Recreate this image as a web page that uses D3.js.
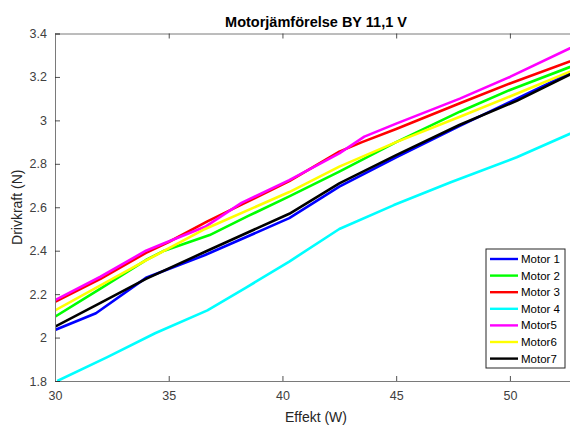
<!DOCTYPE html>
<html>
<head>
<meta charset="utf-8">
<script src="https://cdn.jsdelivr.net/npm/d3@7/dist/d3.min.js"></script>
<style>
  body { margin: 0; background: #fff; }
  text { font-family: "Liberation Sans", Arial, Helvetica, sans-serif; }
</style>
</head>
<body>
<div id="chart"></div>
<script>
const CANVAS = { w: 570, h: 427 };
const MARGIN = { left: 55, right: 577, top: 33.5, bottom: 381 };

const title = "Motorjämförelse BY 11,1 V";
const xLabel = "Effekt (W)";
const yLabel = "Drivkraft (N)";

const xTicks = [30, 35, 40, 45, 50];
const yTicks = [1.8, 2, 2.2, 2.4, 2.6, 2.8, 3, 3.2, 3.4];

const names = ["Motor 1", "Motor 2", "Motor 3", "Motor 4", "Motor5", "Motor6", "Motor7"];
const colors = ["#0000ff", "#00ff00", "#ff0000", "#00ffff", "#ff00ff", "#ffff00", "#000000"];

// [effekt, drivkraft] per motor
const motor1 = [[30, 2.035], [31.8, 2.112], [34, 2.275], [36.6, 2.38], [40.3, 2.55], [42.5, 2.695], [45, 2.83], [47.8, 2.975], [50.3, 3.10], [53, 3.235]];
const motor2 = [[30, 2.096], [32, 2.225], [34, 2.357], [34.8, 2.40], [36.8, 2.472], [38.5, 2.56], [40.3, 2.65], [42.5, 2.764], [45, 2.90], [47.8, 3.04], [50, 3.14], [53, 3.26]];
const motor3 = [[30, 2.165], [32, 2.27], [34, 2.39], [35, 2.44], [36.7, 2.535], [38.2, 2.612], [40.3, 2.72], [42.5, 2.856], [43.5, 2.90], [45, 2.96], [47.8, 3.079], [50, 3.17], [53, 3.285]];
const motor4 = [[30.1, 1.80], [32.3, 1.91], [34.4, 2.02], [36.7, 2.125], [38.4, 2.23], [40.3, 2.35], [42.5, 2.50], [44.9, 2.61], [47.4, 2.715], [50.3, 2.83], [53, 2.955]];
const motor5 = [[30, 2.172], [32, 2.28], [34, 2.40], [34.8, 2.434], [36.6, 2.51], [38.2, 2.62], [40.3, 2.725], [42.5, 2.848], [43.6, 2.925], [45, 2.985], [47.8, 3.10], [50, 3.20], [53, 3.35]];
const motor6 = [[30, 2.125], [32, 2.24], [34, 2.355], [36.6, 2.50], [40.3, 2.67], [42.5, 2.787], [45, 2.90], [47.8, 3.017], [50, 3.11], [53, 3.24]];
const motor7 = [[30, 2.05], [32, 2.16], [34, 2.27], [36.6, 2.395], [40.3, 2.57], [42.5, 2.71], [45, 2.84], [47.8, 2.98], [50.3, 3.09], [53, 3.23]];

const series = [motor1, motor2, motor3, motor4, motor5, motor6, motor7];

const x = d3.scaleLinear().domain([30, 52.95]).range([MARGIN.left, MARGIN.right]);
const y = d3.scaleLinear().domain([1.8, 3.4]).range([MARGIN.bottom, MARGIN.top]);

const svg = d3.select("#chart")
    .append("svg")
    .attr("width", CANVAS.w)
    .attr("height", CANVAS.h);

svg.append("defs").append("clipPath")
    .attr("id", "plotclip")
    .append("rect")
    .attr("x", MARGIN.left)
    .attr("y", MARGIN.top)
    .attr("width", MARGIN.right - MARGIN.left)
    .attr("height", MARGIN.bottom - MARGIN.top);

// --- lines ---
const line = d3.line().x(d => x(d[0])).y(d => y(d[1]));

svg.append("g")
    .attr("clip-path", "url(#plotclip)")
    .selectAll("path")
    .data(series)
    .enter()
    .append("path")
    .attr("d", line)
    .attr("fill", "none")
    .attr("stroke", (d, i) => colors[i])
    .attr("stroke-width", 2.6)
    .attr("stroke-linejoin", "round");

// --- axes (MATLAB style: box, ticks inward) ---
const axisColor = "#262626";
const tickSize = 5;

const xAxis = svg.append("g")
    .attr("transform", `translate(0,${MARGIN.bottom})`)
    .call(d3.axisBottom(x).tickValues(xTicks).tickSize(-tickSize).tickPadding(10).tickFormat(d3.format("d")));

const xAxisTop = svg.append("g")
    .attr("transform", `translate(0,${MARGIN.top})`)
    .call(d3.axisTop(x).tickValues(xTicks).tickSize(-tickSize).tickFormat(""));

const yAxis = svg.append("g")
    .attr("transform", `translate(${MARGIN.left},0)`)
    .call(d3.axisLeft(y).tickValues(yTicks).tickSize(-tickSize).tickPadding(8).tickFormat(d => d3.format("")(+d.toFixed(1))));

[xAxis, xAxisTop, yAxis].forEach(g => {
    g.select(".domain").attr("stroke", "#7a7a7a").attr("stroke-width", 1);
    g.selectAll(".tick line").attr("stroke", axisColor).attr("stroke-width", 0.8);
    g.selectAll(".tick text")
        .attr("fill", "#404040")
        .style("font-size", "12.5px")
        .style("font-family", "'Liberation Sans', Arial, sans-serif");
});

// --- title and labels ---
svg.append("text")
    .attr("x", (MARGIN.left + MARGIN.right) / 2)
    .attr("y", 27)
    .attr("text-anchor", "middle")
    .style("font-size", "14.5px")
    .style("font-weight", "bold")
    .attr("fill", "#000")
    .text(title);

svg.append("text")
    .attr("x", (MARGIN.left + MARGIN.right) / 2)
    .attr("y", 422)
    .attr("text-anchor", "middle")
    .style("font-size", "14px")
    .attr("fill", "#262626")
    .text(xLabel);

svg.append("text")
    .attr("transform", `translate(22,${(MARGIN.top + MARGIN.bottom) / 2}) rotate(-90)`)
    .attr("text-anchor", "middle")
    .style("font-size", "14px")
    .attr("fill", "#262626")
    .text(yLabel);

// --- legend ---
const legend = svg.append("g").attr("transform", "translate(486,249)");

legend.append("rect")
    .attr("width", 79)
    .attr("height", 119)
    .attr("fill", "#fff")
    .attr("stroke", "#262626")
    .attr("stroke-width", 1);

const items = legend.selectAll("g.item")
    .data(names)
    .enter()
    .append("g")
    .attr("class", "item")
    .attr("transform", (d, i) => `translate(0,${10 + i * 16.6})`);

items.append("line")
    .attr("x1", 4)
    .attr("x2", 32)
    .attr("stroke", (d, i) => colors[i])
    .attr("stroke-width", 2.4);

items.append("text")
    .attr("x", 35)
    .attr("y", 4)
    .style("font-size", "11.5px")
    .attr("fill", "#000")
    .text(d => d);
</script>
</body>
</html>
